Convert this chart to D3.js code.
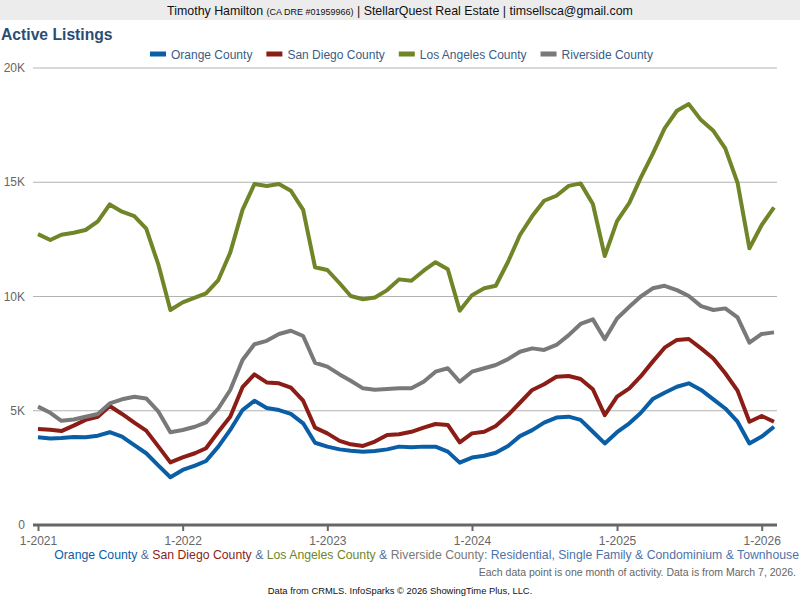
<!DOCTYPE html>
<html>
<head>
<meta charset="utf-8">
<script src="https://cdn.jsdelivr.net/npm/d3@7"></script>
<style>
  body { margin: 0; background: #fff; }
  svg { display: block; font-family: "Liberation Sans", Arial, sans-serif; }
</style>
</head>
<body>
<svg id="chart" width="800" height="600"></svg>
<script>
// monthly values, 1-2021 .. 2-2026
var months = d3.range(62).map(function(i) { return new Date(2021, i, 1); });

var orange = [3840,3790,3810,3850,3840,3910,4060,3870,3500,3140,2600,2090,
              2410,2600,2800,3430,4160,5030,5440,5120,5030,4860,4450,3600,
              3430,3310,3250,3210,3240,3310,3430,3400,3430,3430,3210,2730,
              2950,3030,3160,3460,3890,4150,4480,4700,4740,4600,4080,3570,
              4060,4450,4890,5510,5790,6050,6200,5910,5500,5100,4520,3570,
              3870,4300];
var sandiego = [4200,4170,4110,4350,4600,4740,5210,4860,4480,4130,3430,2740,
                2960,3140,3360,4080,4740,6030,6590,6240,6200,6010,5440,4260,
                4010,3680,3530,3460,3650,3940,3970,4080,4260,4420,4380,3620,
                4010,4080,4330,4810,5350,5910,6160,6490,6520,6390,5940,4810,
                5620,5980,6490,7150,7760,8100,8140,7730,7290,6640,5880,4520,
                4770,4520];
var losangeles = [12730,12470,12700,12790,12910,13290,14030,13710,13520,12970,11380,9410,
                  9745,9950,10140,10720,11920,13790,14920,14840,14920,14630,13790,11280,
                  11160,10580,10020,9880,9960,10280,10750,10690,11130,11500,11190,9380,
                  10060,10360,10470,11520,12690,13520,14190,14410,14840,14950,14050,11770,
                  13300,14100,15170,16240,17360,18130,18420,17720,17250,16480,14980,12110,
                  13130,13900];
var riverside = [5180,4910,4560,4620,4740,4860,5320,5500,5610,5540,4960,4060,
                 4160,4300,4490,5100,5910,7220,7910,8060,8360,8500,8270,7100,
                 6930,6590,6310,5980,5920,5950,5980,5980,6270,6710,6860,6270,
                 6710,6860,7000,7260,7580,7730,7660,7880,8310,8800,9000,8130,
                 9040,9550,9990,10360,10470,10280,10020,9580,9410,9480,9090,7980,
                 8360,8430];

var seriesNames = ["Orange County", "San Diego County", "Los Angeles County", "Riverside County"];
var seriesColors = ["#0a5ea6", "#8b1c16", "#708528", "#797979"];
var seriesValues = [orange, sandiego, losangeles, riverside];
var yTicks = [0, 5000, 10000, 15000, 20000];
var yTickLabels = ["0", "5K", "10K", "15K", "20K"];

var svg = d3.select("#chart");

// header band
svg.append("rect").attr("x", 0).attr("y", 0).attr("width", 800).attr("height", 20).attr("fill", "#ececec");
var head = svg.append("text").attr("x", 400).attr("y", 15).attr("text-anchor", "middle")
  .attr("font-size", 12.4).attr("fill", "#111");
head.append("tspan").text("Timothy Hamilton ");
head.append("tspan").attr("font-size", 9).text("(CA DRE #01959966)");
head.append("tspan").text(" | StellarQuest Real Estate | timsellsca@gmail.com");

svg.append("text").attr("x", 1).attr("y", 40).attr("font-size", 15.7).attr("font-weight", "bold")
  .attr("fill", "#2b4d74").text("Active Listings");

var x = d3.scaleTime().domain([months[0], months[61]]).range([38, 774]);
var y = d3.scaleLinear().domain([0, 20000]).range([525, 68]);

// gridlines
svg.append("g").selectAll("line").data(yTicks.slice(1)).enter().append("line")
  .attr("x1", 33).attr("x2", 777)
  .attr("y1", function(d) { return y(d); }).attr("y2", function(d) { return y(d); })
  .attr("stroke", "#b3b3b3").attr("stroke-width", 1);

svg.append("g").selectAll("text").data(yTicks).enter().append("text")
  .attr("x", 25).attr("y", function(d) { return y(d) + 4; })
  .attr("text-anchor", "end").attr("font-size", 12).attr("fill", "#666")
  .text(function(d, i) { return yTickLabels[i]; });

// x axis
var xAxis = d3.axisBottom(x)
  .tickValues(d3.range(0, 61, 12).map(function(i) { return months[i]; }))
  .tickFormat(d3.timeFormat("%-m-%Y"))
  .tickSize(6).tickSizeOuter(0);
var gx = svg.append("g").attr("transform", "translate(0,525)").call(xAxis);
gx.select(".domain").remove();
gx.append("line").attr("x1", 33).attr("x2", 777).attr("y1", 0).attr("y2", 0)
  .attr("stroke", "#666").attr("stroke-width", 3);
gx.selectAll(".tick line").attr("stroke", "#666").attr("stroke-width", 2);
gx.selectAll(".tick text").attr("font-size", 12).attr("fill", "#666")
  .attr("font-family", "Liberation Sans, Arial, sans-serif").attr("dy", "0.9em");

// lines
var line = d3.line()
  .x(function(d, i) { return x(months[i]); })
  .y(function(d) { return y(d); });

svg.append("g").selectAll("path").data(seriesValues).enter().append("path")
  .attr("d", line).attr("fill", "none")
  .attr("stroke", function(d, i) { return seriesColors[i]; })
  .attr("stroke-width", 4).attr("stroke-linejoin", "round");

// legend
var legend = svg.append("g");
var lx = 150;
seriesNames.forEach(function(name, i) {
  legend.append("rect").attr("x", lx).attr("y", 51.5).attr("width", 16).attr("height", 5)
    .attr("fill", seriesColors[i]);
  var t = legend.append("text").attr("x", lx + 21).attr("y", 58.5).attr("font-size", 12)
    .attr("fill", "#3b5c87").text(name);
  lx += 21 + t.node().getComputedTextLength() + 14;
});

// subtitle
var sub = svg.append("text").attr("x", 799).attr("y", 559).attr("text-anchor", "end")
  .attr("font-size", 12.25);
seriesNames.forEach(function(name, i) {
  sub.append("tspan").attr("fill", seriesColors[i]).text(name);
  if (i < seriesNames.length - 1) sub.append("tspan").attr("fill", "#55709a").text(" & ");
});
sub.append("tspan").attr("fill", "#4f73a8").text(": Residential, Single Family & Condominium & Townhouse");

svg.append("text").attr("x", 796).attr("y", 576).attr("text-anchor", "end")
  .attr("font-size", 10.5).attr("fill", "#666")
  .text("Each data point is one month of activity. Data is from March 7, 2026.");

svg.append("text").attr("x", 400).attr("y", 594).attr("text-anchor", "middle")
  .attr("font-size", 9.4).attr("fill", "#111")
  .text("Data from CRMLS. InfoSparks \u00a9 2026 ShowingTime Plus, LLC.");
</script>
</body>
</html>
